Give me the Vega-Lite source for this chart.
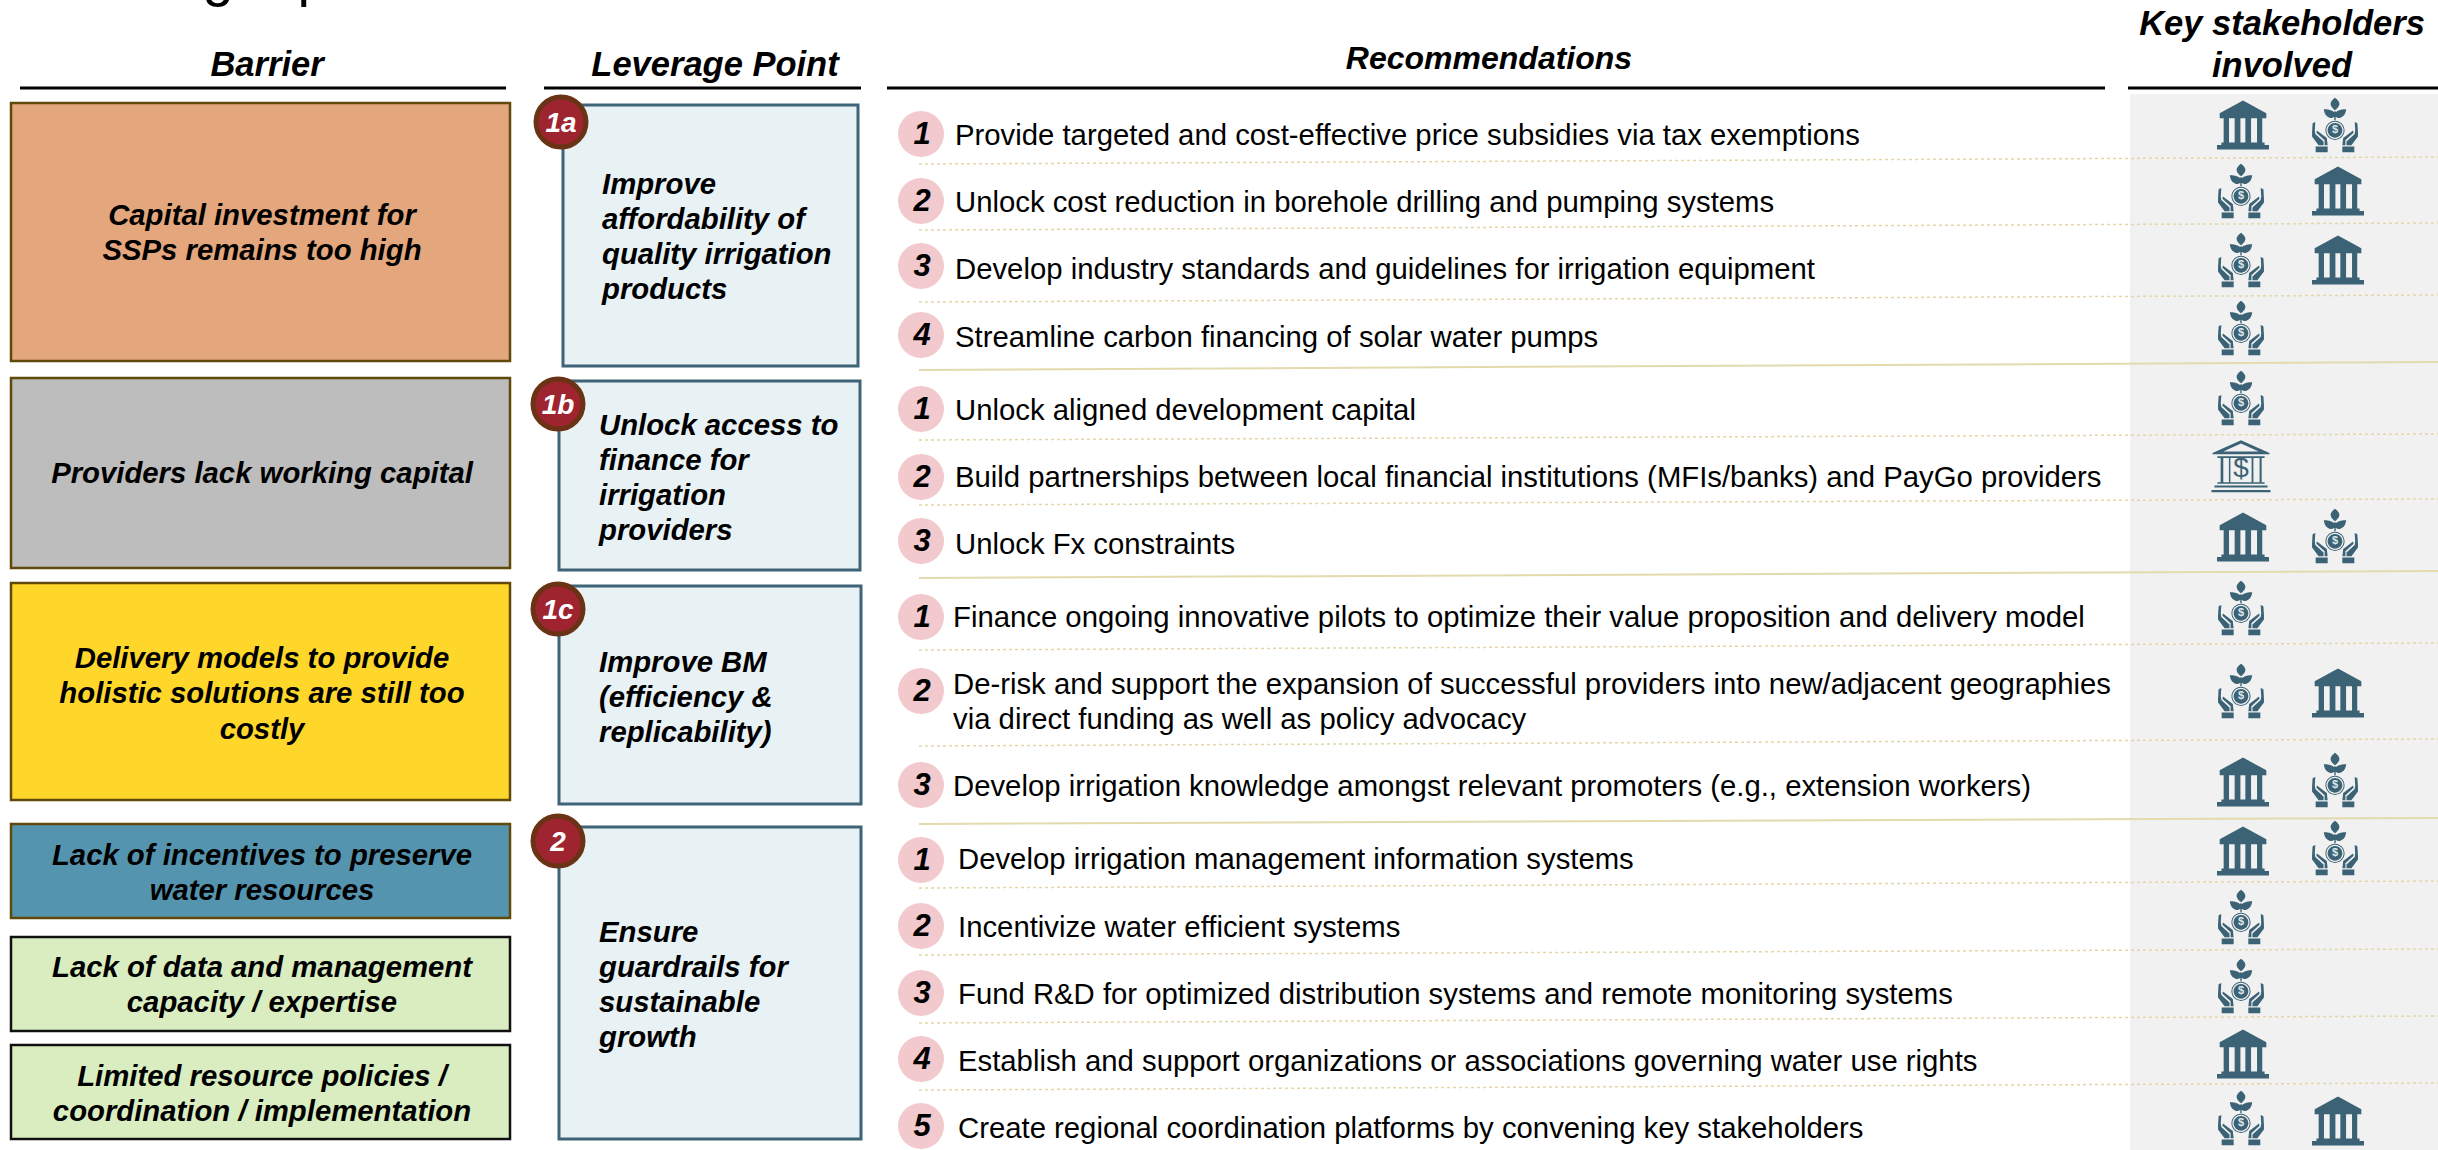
{
"$schema":"https://vega.github.io/schema/vega-lite/v6.json",
"width":2438,"height":1150,"padding":0,"autosize":{"type":"none"},
"background":"#ffffff",
"config":{"view":{"stroke":null},"text":{"font":"Liberation Sans"}},
"datasets":{
"panel":[{"x":2130,"x2":2438,"y":94,"y2":1150}],
"fragments":[{"t":"g","x":218,"y":-5},{"t":"p","x":313,"y":-5}],
"headers":[
{"t":"Barrier","x":267,"y":76},
{"t":"Leverage Point","x":715,"y":76},
{"t":"Key stakeholders\ninvolved","x":2282,"y":35}],
"subheaders":[{"t":"Recommendations","x":1489,"y":69}],
"headerRules":[
{"x":20,"x2":506,"y":88},{"x":544,"x2":861,"y":88},{"x":887,"x2":2105,"y":88},{"x":2128,"x2":2438,"y":88}],
"dividers":[
{"kind":"dash","x":919,"x2":2438,"y":164,"y2":157},
{"kind":"dash","x":919,"x2":2438,"y":230,"y2":223},
{"kind":"dash","x":919,"x2":2438,"y":302,"y2":295},
{"kind":"solid","x":919,"x2":2438,"y":370,"y2":362},
{"kind":"dash","x":919,"x2":2438,"y":440,"y2":434},
{"kind":"dash","x":919,"x2":2438,"y":505,"y2":499},
{"kind":"solid","x":919,"x2":2438,"y":578,"y2":571},
{"kind":"dash","x":919,"x2":2438,"y":650,"y2":643},
{"kind":"dash","x":919,"x2":2438,"y":746,"y2":739},
{"kind":"solid","x":919,"x2":2438,"y":824,"y2":818},
{"kind":"dash","x":919,"x2":2438,"y":888,"y2":881},
{"kind":"dash","x":919,"x2":2438,"y":955,"y2":949},
{"kind":"dash","x":919,"x2":2438,"y":1023,"y2":1016},
{"kind":"dash","x":919,"x2":2438,"y":1090,"y2":1083}],
"barriers":[
{"id":"capital","x":11,"x2":510,"y":103,"y2":361},
{"id":"working","x":11,"x2":510,"y":378,"y2":568},
{"id":"delivery","x":11,"x2":510,"y":583,"y2":800},
{"id":"incentives","x":11,"x2":510,"y":824,"y2":918},
{"id":"data","x":11,"x2":510,"y":937,"y2":1031},
{"id":"policy","x":11,"x2":510,"y":1045,"y2":1139}],
"barrierText":[
{"t":"Capital investment for\nSSPs remains too high","x":262,"y":225},
{"t":"Providers lack working capital","x":262,"y":483},
{"t":"Delivery models to provide\nholistic solutions are still too\ncostly","x":262,"y":668},
{"t":"Lack of incentives to preserve\nwater resources","x":262,"y":865},
{"t":"Lack of data and management\ncapacity / expertise","x":262,"y":977},
{"t":"Limited resource policies /\ncoordination / implementation","x":262,"y":1086}],
"leverage":[
{"x":563,"x2":858,"y":105,"y2":366},
{"x":559,"x2":860,"y":381,"y2":570},
{"x":559,"x2":861,"y":586,"y2":804},
{"x":559,"x2":861,"y":827,"y2":1139}],
"leverageText":[
{"t":"Improve\naffordability of\nquality irrigation\nproducts","x":602,"y":194},
{"t":"Unlock access to\nfinance for\nirrigation\nproviders","x":599,"y":435},
{"t":"Improve BM\n(efficiency &\nreplicability)","x":599,"y":672},
{"t":"Ensure\nguardrails for\nsustainable\ngrowth","x":599,"y":942}],
"badges":[
{"t":"1a","x":561,"y":122},
{"t":"1b","x":558,"y":404},
{"t":"1c","x":558,"y":609},
{"t":"2","x":558,"y":841}],
"bullets":[
{"n":"1","x":921,"y":134},{"n":"2","x":921,"y":201},{"n":"3","x":921,"y":266},{"n":"4","x":921,"y":335},
{"n":"1","x":921,"y":409},{"n":"2","x":921,"y":477},{"n":"3","x":921,"y":541},
{"n":"1","x":921,"y":617},{"n":"2","x":921,"y":691},{"n":"3","x":921,"y":785},
{"n":"1","x":921,"y":860},{"n":"2","x":921,"y":926},{"n":"3","x":921,"y":993},{"n":"4","x":921,"y":1059},{"n":"5","x":921,"y":1126}],
"recommendations":[
{"t":"Provide targeted and cost-effective price subsidies via tax exemptions","x":955,"y":145},
{"t":"Unlock cost reduction in borehole drilling and pumping systems","x":955,"y":212},
{"t":"Develop industry standards and guidelines for irrigation equipment","x":955,"y":279},
{"t":"Streamline carbon financing of solar water pumps","x":955,"y":347},
{"t":"Unlock aligned development capital","x":955,"y":420},
{"t":"Build partnerships between local financial institutions (MFIs/banks) and PayGo providers","x":955,"y":487},
{"t":"Unlock Fx constraints","x":955,"y":554},
{"t":"Finance ongoing innovative pilots to optimize their value proposition and delivery model","x":953,"y":627},
{"t":"De-risk and support the expansion of successful providers into new/adjacent geographies\nvia direct funding as well as policy advocacy","x":953,"y":694},
{"t":"Develop irrigation knowledge amongst relevant promoters (e.g., extension workers)","x":953,"y":796},
{"t":"Develop irrigation management information systems","x":958,"y":869},
{"t":"Incentivize water efficient systems","x":958,"y":937},
{"t":"Fund R&D for optimized distribution systems and remote monitoring systems","x":958,"y":1004},
{"t":"Establish and support organizations or associations governing water use rights","x":958,"y":1071},
{"t":"Create regional coordination platforms by convening key stakeholders","x":958,"y":1138}],
"icons":[
{"icon":"bank","x":2243,"y":125},{"icon":"plant","x":2335,"y":125},
{"icon":"plant","x":2241,"y":191},{"icon":"bank","x":2338,"y":191},
{"icon":"plant","x":2241,"y":260},{"icon":"bank","x":2338,"y":260},
{"icon":"plant","x":2241,"y":328},
{"icon":"plant","x":2241,"y":398},
{"icon":"dollarbank","x":2241,"y":466},
{"icon":"bank","x":2243,"y":537},{"icon":"plant","x":2335,"y":536},
{"icon":"plant","x":2241,"y":608},
{"icon":"plant","x":2241,"y":691},{"icon":"bank","x":2338,"y":693},
{"icon":"bank","x":2243,"y":782},{"icon":"plant","x":2335,"y":780},
{"icon":"bank","x":2243,"y":851},{"icon":"plant","x":2335,"y":848},
{"icon":"plant","x":2241,"y":917},
{"icon":"plant","x":2241,"y":986},
{"icon":"bank","x":2243,"y":1054},
{"icon":"plant","x":2241,"y":1118},{"icon":"bank","x":2338,"y":1121}]
},
"encoding":{
"x":{"field":"x","type":"quantitative","scale":{"domain":[0,2438],"nice":false,"zero":false},"axis":null},
"y":{"field":"y","type":"quantitative","scale":{"domain":[0,1150],"nice":false,"zero":false,"reverse":true},"axis":null}
},
"layer":[
{"data":{"name":"panel"},"mark":{"type":"rect","fill":"#F1F1F1"},"encoding":{"x2":{"field":"x2"},"y2":{"field":"y2"}}},
{"data":{"name":"fragments"},"mark":{"type":"text","fontSize":56,"align":"center","baseline":"alphabetic","color":"#000000"},"encoding":{"text":{"field":"t"}}},
{"data":{"name":"headers"},"mark":{"type":"text","fontSize":34.5,"fontWeight":"bold","fontStyle":"italic","align":"center","baseline":"alphabetic","lineBreak":"\n","lineHeight":41.7,"color":"#000000"},"encoding":{"text":{"field":"t"}}},
{"data":{"name":"subheaders"},"mark":{"type":"text","fontSize":32,"fontWeight":"bold","fontStyle":"italic","align":"center","baseline":"alphabetic","color":"#000000"},"encoding":{"text":{"field":"t"}}},
{"data":{"name":"headerRules"},"mark":{"type":"rule","strokeWidth":3,"color":"#000000"},"encoding":{"x2":{"field":"x2"}}},
{"data":{"name":"dividers"},"transform":[{"filter":"datum.kind==='dash'"}],"mark":{"type":"rule","strokeWidth":1.5,"strokeDash":[3,3],"color":"#E2D7A6"},"encoding":{"x2":{"field":"x2"},"y2":{"field":"y2"}}},
{"data":{"name":"dividers"},"transform":[{"filter":"datum.kind==='solid'"}],"mark":{"type":"rule","strokeWidth":2,"color":"#E3DAAE"},"encoding":{"x2":{"field":"x2"},"y2":{"field":"y2"}}},
{"data":{"name":"barriers"},"mark":{"type":"rect","strokeWidth":2.5},"encoding":{"x2":{"field":"x2"},"y2":{"field":"y2"},
"fill":{"field":"id","type":"nominal","legend":null,"scale":{"domain":["capital","working","delivery","incentives","data","policy"],"range":["#E4A67C","#BDBDBD","#FFD72A","#5594AF","#D9EDC0","#D9EDC0"]}},
"stroke":{"field":"id","type":"nominal","legend":null,"scale":{"domain":["capital","working","delivery","incentives","data","policy"],"range":["#5F4A0A","#5F4A0A","#5F4A0A","#5F4A0A","#111111","#111111"]}}}},
{"data":{"name":"barrierText"},"mark":{"type":"text","fontSize":29.3,"fontWeight":"bold","fontStyle":"italic","align":"center","baseline":"alphabetic","lineBreak":"\n","lineHeight":35.3,"color":"#000000"},"encoding":{"text":{"field":"t"}}},
{"data":{"name":"leverage"},"mark":{"type":"rect","fill":"#E8F1F4","stroke":"#3E6478","strokeWidth":3},"encoding":{"x2":{"field":"x2"},"y2":{"field":"y2"}}},
{"data":{"name":"leverageText"},"mark":{"type":"text","fontSize":29.3,"fontWeight":"bold","fontStyle":"italic","align":"left","baseline":"alphabetic","lineBreak":"\n","lineHeight":35.1,"color":"#000000"},"encoding":{"text":{"field":"t"}}},
{"data":{"name":"badges"},"mark":{"type":"point","shape":"circle","filled":true,"size":2500,"fill":"#9E2430","stroke":"#6B3315","strokeWidth":5,"opacity":1}},
{"data":{"name":"badges"},"mark":{"type":"text","fontSize":28,"fontWeight":"bold","fontStyle":"italic","align":"center","baseline":"middle","dy":2,"color":"#FFFFFF"},"encoding":{"text":{"field":"t"}}},
{"data":{"name":"bullets"},"mark":{"type":"point","shape":"circle","filled":true,"size":2116,"fill":"#F2C9CC","stroke":null,"opacity":1}},
{"data":{"name":"bullets"},"mark":{"type":"text","fontSize":31,"fontWeight":"bold","fontStyle":"italic","align":"center","baseline":"middle","dx":1,"dy":1,"color":"#000000"},"encoding":{"text":{"field":"n"}}},
{"data":{"name":"recommendations"},"mark":{"type":"text","fontSize":29.3,"align":"left","baseline":"alphabetic","lineBreak":"\n","lineHeight":35,"color":"#000000"},"encoding":{"text":{"field":"t"}}},
{"data":{"name":"icons"},"transform":[{"filter":"datum.icon==='bank'"}],"mark":{"type":"point","filled":true,"size":2704,"fill":"#3B6275","stroke":null,"opacity":1,"shape":"M0,-0.94L0.897,-0.45L0.897,-0.26L-0.897,-0.26L-0.897,-0.45Z M-0.744,-0.26H-0.538V0.67H-0.744Z M-0.32,-0.26H-0.10V0.67H-0.32Z M0.09,-0.26H0.31V0.67H0.09Z M0.54,-0.26H0.74V0.67H0.54Z M-0.83,0.67H0.83V0.77H-0.83Z M-1,0.77H1V0.94H-1Z"}},
{"data":{"name":"icons"},"transform":[{"filter":"datum.icon==='plant'"}],"mark":{"type":"point","filled":true,"size":2987,"fill":"#3B6275","stroke":null,"opacity":1,"shape":"M0,-1C0.1,-0.92 0.17,-0.85 0.16,-0.76C0.15,-0.66 0.05,-0.58 0,-0.54C-0.05,-0.58 -0.15,-0.66 -0.16,-0.76C-0.17,-0.85 -0.1,-0.92 0,-1Z M-0.41,-0.58C-0.3,-0.58 -0.12,-0.56 -0.02,-0.47L-0.02,-0.3C-0.12,-0.2 -0.38,-0.28 -0.41,-0.58Z M0.41,-0.58C0.38,-0.28 0.12,-0.2 0.02,-0.3L0.02,-0.47C0.12,-0.56 0.3,-0.58 0.41,-0.58Z M-0.025,-0.5H0.025V-0.17H-0.025Z M0.35,0.195A0.35,0.35 0 1 1 -0.35,0.195A0.35,0.35 0 1 1 0.35,0.195Z M0.315,0.195A0.315,0.315 0 1 0 -0.315,0.195A0.315,0.315 0 1 0 0.315,0.195Z M0.27,0.195A0.27,0.27 0 1 1 -0.27,0.195A0.27,0.27 0 1 1 0.27,0.195Z M-0.84,0.27L-0.82,-0.06L-0.72,-0.11L-0.74,0.2L-0.72,0.33L-0.42,0.6L-0.42,0.74L-0.6,0.74L-0.84,0.42Z M-0.66,0.2L-0.3,0.48L-0.27,0.74L-0.38,0.74L-0.38,0.56L-0.68,0.28Z M0.84,0.27L0.84,0.42L0.6,0.74L0.42,0.74L0.42,0.6L0.72,0.33L0.74,0.2L0.72,-0.11L0.82,-0.06Z M0.66,0.2L0.68,0.28L0.38,0.56L0.38,0.74L0.27,0.74L0.3,0.48Z M-0.707,0.79H-0.268V1H-0.707Z M0.268,0.79H0.707V1H0.268Z"}},
{"data":{"name":"icons"},"transform":[{"filter":"datum.icon==='plant'"}],"mark":{"type":"text","fontSize":11,"fontWeight":"bold","align":"center","baseline":"middle","dy":5,"color":"#DCE7EB"},"encoding":{"text":{"value":"$"}}},
{"data":{"name":"icons"},"transform":[{"filter":"datum.icon==='dollarbank'"}],"mark":{"type":"point","filled":true,"size":3481,"fill":"#3B6275","stroke":null,"opacity":1,"shape":"M0,-0.875L0.966,-0.443V-0.40H-0.966V-0.443Z M0,-0.76L-0.6,-0.49H0.6Z M-0.8,-0.33H0.8V-0.27H-0.8Z M-0.69,-0.27H-0.60V0.55H-0.69Z M-0.41,-0.27H-0.36V0.55H-0.41Z M0.36,-0.27H0.42V0.55H0.36Z M0.63,-0.27H0.70V0.55H0.63Z M-0.8,0.55H0.8V0.60H-0.8Z M-0.9,0.66H0.9V0.73H-0.9Z M-1,0.81H1V0.89H-1Z"}},
{"data":{"name":"icons"},"transform":[{"filter":"datum.icon==='dollarbank'"}],"mark":{"type":"text","fontSize":28,"align":"center","baseline":"middle","dy":3,"color":"#3B6275"},"encoding":{"text":{"value":"$"}}}
]
}
